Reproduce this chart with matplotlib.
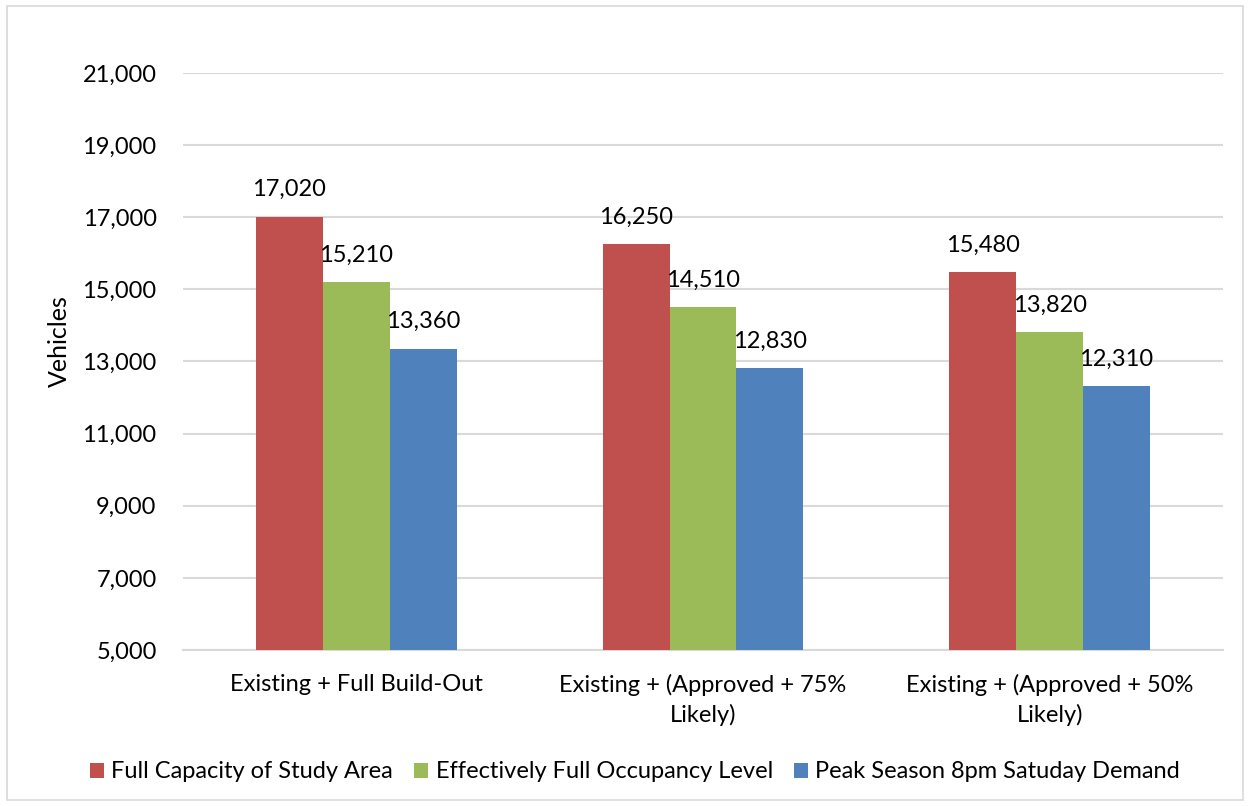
import matplotlib
matplotlib.use("Agg")
import matplotlib.pyplot as plt
import numpy as np
from matplotlib.patches import Rectangle

categories = ["Existing + Full Build-Out", "Existing + (Approved + 75%\nLikely)", "Existing + (Approved + 50%\nLikely)"]
series_names = ["Full Capacity of Study Area", "Effectively Full Occupancy Level", "Peak Season 8pm Satuday Demand"]
full_capacity = [17020, 16250, 15480]
effective_full = [15210, 14510, 13820]
peak_demand = [13360, 12830, 12310]
y_ticks = [5000, 7000, 9000, 11000, 13000, 15000, 17000, 19000, 21000]
colors = ["#C0504D", "#9BBB59", "#4F81BD"]

plt.rcParams['font.family'] = ['Lato', 'DejaVu Sans']

fig = plt.figure(figsize=(12.5, 8.06), dpi=100)
ax = fig.add_axes([183/1250, 1-650/806, (1223-183)/1250, (650-73)/806])

fig.patches.append(Rectangle((7/1250, 6/806), 1236/1250, 794/806, transform=fig.transFigure,
                             fill=False, edgecolor="#D9D9D9", linewidth=1.2))

x = np.arange(len(categories))
w = 0.193
data = [full_capacity, effective_full, peak_demand]
fs = 17
for i, (vals, c, name) in enumerate(zip(data, colors, series_names)):
    pos = x + (i - 1) * w
    ax.bar(pos, [v - 5000 for v in vals], width=w, bottom=5000, color=c, label=name, zorder=3)
    for p, v in zip(pos, vals):
        ax.text(p, v + 450, f"{v:,}", ha="center", va="bottom", fontsize=fs, color="black")

ax.set_xlim(-0.5, 2.5)
ax.set_ylim(5000, 21000)
ax.set_yticks(y_ticks)
ax.set_yticklabels([f"{t:,}" for t in y_ticks], fontsize=fs)
ax.set_xticks(x)
ax.set_xticklabels(categories, fontsize=fs, linespacing=1.45)
ax.grid(axis="y", color="#D9D9D9", linewidth=1.5, zorder=0)
for s in ["top", "right", "left"]:
    ax.spines[s].set_visible(False)
ax.spines["bottom"].set_color("#D9D9D9")
ax.spines["bottom"].set_linewidth(1.5)
ax.tick_params(axis="both", length=0)
ax.tick_params(axis="y", pad=19)
ax.tick_params(axis="x", pad=17)
ax.set_ylabel("Vehicles", fontsize=fs + 1)
ax.yaxis.set_label_coords(-112/1040, 0.535)

fig.legend(loc="center", bbox_to_anchor=(635/1250, 1-772/806), ncol=3, frameon=False,
           fontsize=fs, handlelength=0.6, handleheight=0.6, handletextpad=0.3, columnspacing=0.9)

fig.savefig("out.png", dpi=100)
